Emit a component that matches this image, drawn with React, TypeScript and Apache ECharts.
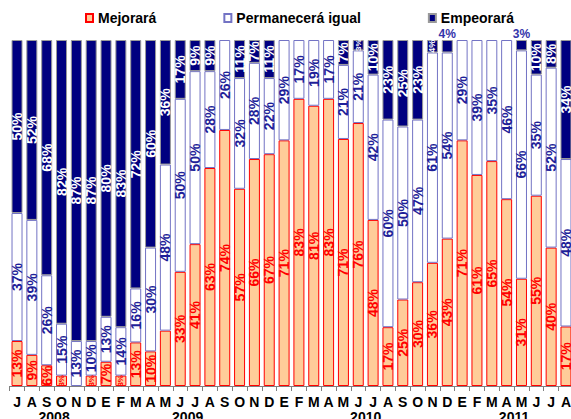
import React, { useEffect, useRef } from "react";
import * as echarts from "echarts";

const months = ["J","A","S","O","N","D","E","F","M","A","M","J","J","A","S","O","N","D","E","F","M","A","M","J","J","A","S","O","N","D","E","F","M","A","M","J","J","A"];
const years = ["2008", "2009", "2010", "2011"];
const monthsPerYear = [6, 12, 12, 8];

const mejorara = [13,9,6,3,0,3,7,3,12.6,10,16,33,41,63,74,57,65.6,67,71,83,81,83,71.4,76,48,17,25,30,35.6,42.6,71,61,65,54,31,55,40,17.2];
const permanecera = [37,39,26,15,13,10,13,14,15.6,30,48,50,50,28,26,32,27.8,22,29,17,19,17,21.4,21,42,60,50,47,60.8,53.8,29,39,35,46,66,35,52,48.4];
const empeorara = [50,52,68,82,87,87,80,83,71.8,60,36,17,9,9,0,11,6.6,11,0,0,0,0,7.2,3,10,23,25,23,3.6,3.6,0,0,0,0,3,10,8,34.4];

const FONT = "'Liberation Sans', Arial, sans-serif";

export default function App() {
  const ref = useRef<HTMLDivElement>(null);
  useEffect(() => {
    if (!ref.current) return;
    const chart = echarts.init(ref.current, null, { renderer: "svg" });

    const yearAt: Record<number, string> = {};
    let start = 0;
    monthsPerYear.forEach((n, k) => {
      yearAt[start + n / 2] = years[k];
      start += n;
    });

    const fmt = (p: any) => Math.round(Number(p.value)) + "%";

    const smallM: Record<number, any> = {
      3: { fontSize: 8 },
      5: { fontSize: 8 },
      7: { fontSize: 8 },
      10: { show: false },
    };
    const topLbl = { position: "top", rotate: 0, color: "#3333AA", fontSize: 12, lineHeight: 10, distance: 1 };
    const smallE: Record<number, any> = {
      23: { fontSize: 8 },
      28: { fontSize: 9 },
      29: topLbl,
      34: topLbl,
    };

    const mk = (arr: number[], over: Record<number, any>) =>
      arr.map((v, i) => ({ value: v === 0 ? "-" : v, label: over[i] }));

    const baseLabel = {
      show: true,
      position: "inside",
      rotate: 90,
      fontSize: 14,
      fontWeight: "bold",
      fontFamily: FONT,
      formatter: fmt,
    };

    chart.setOption({
      animation: false,
      textStyle: { fontFamily: FONT },
      legend: {
        left: 83,
        top: 9,
        padding: 2,
        itemWidth: 7,
        itemHeight: 8,
        itemGap: 67,
        icon: "rect",
        textStyle: { fontSize: 14, fontWeight: "bold", color: "#000", fontFamily: FONT, lineHeight: 14 },
        data: ["Mejorará", "Permanecerá igual", "Empeorará"],
      },
      grid: { left: 9.6, right: -2.4, top: 40, bottom: 33, containLabel: false, outerBoundsMode: "none" },
      xAxis: [
        {
          type: "category",
          data: months,
          axisLine: { lineStyle: { color: "#808080" } },
          axisTick: { show: true, length: 5, lineStyle: { color: "#808080" } },
          axisLabel: { interval: 0, margin: 9, color: "#000", fontWeight: "bold", fontSize: 14, fontFamily: FONT, lineHeight: 14 },
        },
        {
          type: "value",
          min: 0,
          max: 38,
          interval: 1,
          position: "bottom",
          axisLine: { show: false },
          axisTick: { show: false },
          splitLine: { show: false },
          axisLabel: {
            margin: 24,
            color: "#000",
            fontWeight: "bold",
            fontSize: 14,
            lineHeight: 14,
            fontFamily: FONT,
            formatter: (v: number) => yearAt[v] ?? "",
          },
        },
      ],
      yAxis: { type: "value", min: 0, max: 100, show: false },
      series: [
        {
          name: "Mejorará",
          type: "bar",
          stack: "t",
          barWidth: 11,
          itemStyle: { color: "#FFCC99", borderColor: "#FF0000", borderWidth: 1 },
          label: { ...baseLabel, color: "#FF0000" },
          data: mk(mejorara, smallM),
        },
        {
          name: "Permanecerá igual",
          type: "bar",
          stack: "t",
          barWidth: 11,
          itemStyle: { color: "#FFFFFF", borderColor: "#7373C4", borderWidth: 1 },
          label: { ...baseLabel, color: "#1F1F99" },
          data: mk(permanecera, {}),
        },
        {
          name: "Empeorará",
          type: "bar",
          stack: "t",
          barWidth: 11,
          itemStyle: { color: "#000080", borderColor: "#9A9A9A", borderWidth: 1 },
          label: { ...baseLabel, color: "#FFFFFF" },
          data: mk(empeorara, smallE),
        },
      ],
    });
    return () => chart.dispose();
  }, []);
  return (
    <div
      ref={ref}
      style={{ position: "fixed", left: 0, top: 0, width: 571, height: 419, background: "#fff" }}
    />
  );
}
